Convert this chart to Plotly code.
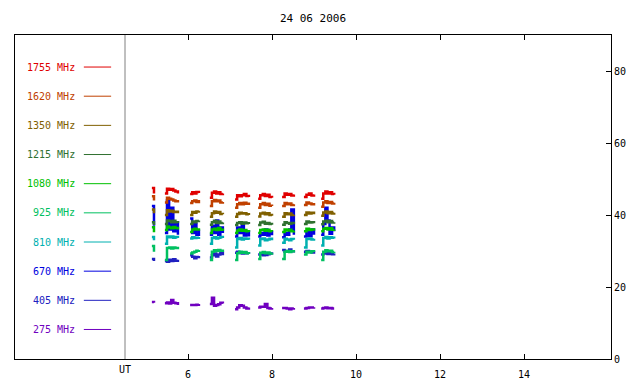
import plotly.graph_objects as go

# ---- data (UT hours, flux values per segment) ----
seg_times = [
    [5.14, 5.19],
    [5.45, 5.50, 5.55, 5.60, 5.65, 5.70, 5.76],
    [6.05, 6.10, 6.15, 6.20, 6.26],
    [6.52, 6.57, 6.62, 6.67, 6.72, 6.77, 6.83],
    [7.12, 7.17, 7.22, 7.28, 7.33, 7.39, 7.45],
    [7.67, 7.72, 7.78, 7.83, 7.89, 7.94, 8.00],
    [8.24, 8.30, 8.35, 8.41, 8.46, 8.52],
    [8.76, 8.82, 8.88, 8.94, 9.00],
    [9.17, 9.22, 9.27, 9.32, 9.37, 9.43, 9.48],
]

mhz_1755 = [[47.5, 46.0], [46.0, 47.3, 47.0, 47.2, 46.8, 46.5, 46.0], [45.8, 46.3, 46.0, 46.4, 46.1],
            [44.8, 46.2, 46.5, 46.0, 46.3, 45.8, 46.0], [44.3, 45.5, 45.2, 45.5, 45.8, 45.3, 45.0],
            [44.5, 45.5, 45.8, 45.3, 45.6, 45.0, 44.8], [45.0, 46.0, 45.6, 45.8, 45.4, 45.7],
            [45.0, 45.6, 46.0, 45.4, 45.7], [44.5, 46.0, 46.5, 46.0, 46.3, 45.8, 45.6]]
mhz_1620 = [[45.2, 44.0], [43.5, 44.8, 44.5, 44.3, 44.0, 43.8, 43.5], [43.3, 43.8, 44.0, 43.6, 44.2],
            [42.5, 43.8, 44.2, 43.8, 44.0, 43.5, 43.6], [42.0, 43.0, 43.3, 43.0, 43.4, 43.1, 42.8],
            [42.0, 43.0, 43.3, 42.8, 43.1, 42.6, 42.5], [42.5, 43.3, 43.0, 43.2, 42.8, 43.0],
            [42.8, 43.5, 43.2, 43.0, 43.3], [42.3, 43.5, 43.8, 43.3, 43.6, 43.2, 43.4]]
mhz_1350 = [[41.5, 40.5], [40.0, 41.3, 41.0, 41.2, 40.8, 40.9, 40.5], [40.0, 40.8, 40.6, 41.0, 41.2],
            [39.5, 40.5, 41.0, 40.6, 40.8, 40.3, 40.2], [39.5, 40.3, 40.6, 40.4, 40.5, 40.2, 40.0],
            [39.6, 40.4, 40.6, 40.2, 40.5, 40.0, 39.8], [39.5, 40.5, 40.2, 40.4, 40.0, 40.1],
            [40.0, 40.7, 40.4, 40.6, 40.2], [39.8, 40.7, 41.0, 40.5, 40.8, 40.4, 40.6]]
mhz_1215 = [[38.0, 37.2], [37.5, 38.5, 38.3, 38.0, 38.4, 38.0, 37.8], [37.5, 38.2, 38.0, 38.3, 38.5],
            [37.3, 38.0, 38.4, 37.8, 38.2, 37.8, 37.9], [37.2, 37.8, 38.0, 37.6, 37.9, 37.7, 37.5],
            [37.2, 37.9, 38.1, 37.6, 37.8, 37.5, 37.3], [37.3, 38.0, 37.8, 37.6, 37.8, 37.4],
            [37.5, 38.2, 37.9, 38.0, 37.7], [37.4, 38.2, 38.4, 38.0, 38.3, 37.9, 38.0]]
mhz_1080 = [[36.6, 35.2], [35.8, 36.8, 36.5, 36.3, 36.7, 36.4, 36.0], [35.3, 36.0, 36.2, 36.0, 36.3],
            [35.0, 36.0, 36.2, 35.8, 36.4, 35.9, 35.6], [35.0, 35.7, 36.0, 35.6, 35.8, 35.5, 35.3],
            [35.0, 35.8, 36.0, 35.6, 35.9, 35.5, 35.4], [35.3, 36.0, 35.7, 35.9, 35.5, 35.6],
            [35.5, 36.2, 35.8, 36.0, 35.6], [35.5, 36.2, 36.4, 36.0, 36.3, 35.9, 36.0]]
mhz_925 = [[31.4, 29.8], [27.5, 30.8, 31.0, 30.7, 31.0, 30.8, 30.5], [29.3, 29.6, 29.8, 30.1, 30.3],
           [27.5, 29.8, 30.2, 30.0, 30.3, 30.1, 30.4], [27.5, 29.4, 29.8, 29.5, 29.7, 29.4, 29.2],
           [27.8, 29.5, 29.7, 29.4, 29.6, 29.3, 29.5], [27.8, 29.8, 30.0, 29.7, 29.9, 29.6],
           [29.0, 29.8, 29.6, 29.9, 29.7], [27.5, 29.8, 30.2, 29.9, 30.1, 29.7, 29.8]]
mhz_810 = [[33.9, 33.0], [32.0, 34.0, 33.8, 34.0, 33.7, 33.9, 33.6], [33.5, 33.8, 33.6, 33.7, 33.9],
           [32.0, 33.6, 33.8, 33.5, 33.7, 33.9, 33.6], [31.0, 33.3, 33.6, 33.2, 33.5, 33.4, 33.1],
           [31.5, 33.3, 33.5, 33.0, 33.2, 33.4, 33.0], [32.3, 33.4, 33.2, 33.0, 33.3, 33.1],
           [31.0, 33.3, 33.5, 33.2, 33.4], [31.5, 33.6, 33.9, 33.5, 33.8, 33.7, 33.5]]
mhz_670 = [[42.5, 37.0], [35.0, 44.0, 36.0, 42.0, 35.5, 38.0, 34.5], [39.0, 35.0, 37.5, 34.5, 36.0],
           [34.5, 37.0, 35.0, 38.5, 34.5, 36.5, 35.0], [34.0, 36.5, 35.0, 37.2, 34.3, 35.5, 34.0],
           [34.0, 35.0, 34.5, 36.0, 34.3, 35.2, 34.4], [33.8, 35.0, 34.5, 36.0, 41.5, 34.5],
           [34.0, 35.5, 34.2, 36.0, 34.5], [34.5, 37.5, 42.0, 38.5, 34.8, 36.5, 35.5]]
mhz_405 = [[27.8, 27.2], [27.2, 27.0, 27.6, 27.2, 27.7, 27.3, 27.6], [28.8, 28.4, 28.0, 28.3, 28.6],
           [28.2, 28.8, 29.3, 28.5, 29.0, 29.5, 28.8], [29.5, 29.8, 29.5, 29.3, 29.6, 29.4, 29.2],
           [29.0, 29.2, 28.8, 28.9, 29.1, 29.3, 29.0], [30.3, 29.8, 30.0, 30.4, 29.9, 30.1],
           [29.8, 30.0, 29.8, 29.6, 29.9], [29.0, 29.3, 29.6, 29.2, 29.4, 29.1, 29.3]]
mhz_275 = [[15.8, 15.6], [15.5, 15.7, 15.4, 16.4, 15.6, 15.5, 15.0], [15.0, 15.0, 15.0, 15.1, 15.3],
           [15.3, 17.0, 14.8, 15.0, 15.2, 15.6, 15.4], [13.8, 14.3, 14.9, 14.8, 14.3, 14.0, 14.3],
           [14.3, 14.5, 14.5, 15.3, 14.2, 14.0, 14.2], [14.2, 14.2, 14.0, 13.8, 14.0, 14.2],
           [14.0, 14.2, 14.3, 14.3, 14.4], [14.0, 14.2, 14.3, 14.1, 14.2, 14.0, 14.0]]

freq_labels = ["1755 MHz", "1620 MHz", "1350 MHz", "1215 MHz", "1080 MHz",
               "925 MHz", "810 MHz", "670 MHz", "405 MHz", "275 MHz"]
series = [mhz_1755, mhz_1620, mhz_1350, mhz_1215, mhz_1080,
          mhz_925, mhz_810, mhz_670, mhz_405, mhz_275]
colors = ["#e00000", "#c04000", "#806000", "#307030", "#00c000",
          "#00c060", "#00b0b0", "#0000e0", "#2020c0", "#7000c0"]

x_ticks = [6, 8, 10, 12, 14]
y_ticks = [0, 20, 40, 60, 80]
title_text = "24 06 2006"


def join(segs):
    out = []
    for i, s in enumerate(segs):
        if i:
            out.append(None)
        out.extend(s)
    return out


ut = join(seg_times)
FONT = "DejaVu Sans Mono"
PAGE_OFF = 8  # default body margin of the html page

fig = go.Figure()
# draw low frequencies first so higher ones sit on top
for lab, vals, col in reversed(list(zip(freq_labels, series, colors))):
    fig.add_trace(go.Scatter(x=ut, y=join(vals), mode="lines", name=lab,
                             line=dict(color=col, width=2.5, shape="hv"),
                             connectgaps=False, showlegend=False))

# legend panel drawn inside frame
for i, (lab, col) in enumerate(zip(freq_labels, colors)):
    yy = 81.1 - i * 8.1
    fig.add_annotation(x=3.36, y=yy, xref="x", yref="y", text=lab, showarrow=False,
                       xanchor="right", yanchor="middle",
                       font=dict(family=FONT, size=10, color=col))
    fig.add_shape(type="line", x0=3.52, x1=4.17, y0=yy, y1=yy, xref="x", yref="y",
                  line=dict(color=col, width=1))

# separator line and UT label
fig.add_shape(type="line", x0=4.5, x1=4.5, y0=0, y1=90, xref="x", yref="y",
              line=dict(color="#808080", width=1))
fig.add_annotation(x=4.5, y=0, xref="x", yref="paper", text="UT", showarrow=False,
                   yanchor="top", yshift=-3, font=dict(family=FONT, size=10, color="black"))

W, H = 640 - PAGE_OFF, 384 - PAGE_OFF
fig.update_layout(
    width=W, height=H,
    margin=dict(l=15 - PAGE_OFF, r=29, t=35 - PAGE_OFF, b=25, autoexpand=False),
    paper_bgcolor="white", plot_bgcolor="white",
    font=dict(family=FONT, size=10, color="black"),
    title=dict(text=title_text, x=0.5, xref="paper", y=1 - (18 - PAGE_OFF) / H,
               yanchor="middle", font=dict(family=FONT, size=11, color="black")),
    showlegend=False,
)
fig.update_xaxes(range=[1.881, 16.071], tickvals=x_ticks, ticks="inside", ticklen=5,
                 tickcolor="black", showline=True, linecolor="black", linewidth=1,
                 mirror="ticks", showgrid=False, zeroline=False, ticklabelstandoff=6,
                 tickfont=dict(family=FONT, size=10))
fig.update_yaxes(range=[0, 90], tickvals=y_ticks, side="right", ticks="inside", ticklen=5,
                 tickcolor="black", showline=True, linecolor="black", linewidth=1,
                 mirror=True, showgrid=False, zeroline=False,
                 tickfont=dict(family=FONT, size=10))

fig.write_html("out.html")
